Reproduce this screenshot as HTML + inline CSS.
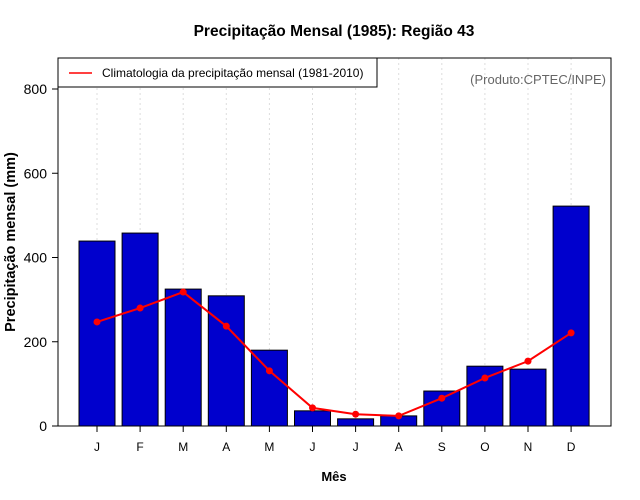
<!DOCTYPE html>
<html><head><meta charset="utf-8"><style>
body{margin:0;background:#fff}
svg{display:block;font-family:"Liberation Sans",sans-serif}
</style></head><body>
<svg id="c" width="640" height="500">
<text x="334" y="36" text-anchor="middle" font-size="15.5" font-weight="bold">Precipitação Mensal (1985): Região 43</text>
<text x="334" y="481" text-anchor="middle" font-size="13" font-weight="bold">Mês</text>
<text transform="translate(15,242) rotate(-90)" text-anchor="middle" font-size="14.5" font-weight="bold">Precipitação mensal (mm)</text>
<g id="grid"></g><g id="bars"></g><g id="line"></g><g id="axes"></g>
<rect x="58" y="58" width="553" height="368" fill="none" stroke="#000"/>
<g>
<rect x="58" y="58" width="319" height="29" fill="#fff" stroke="#000"/>
<line x1="69" y1="73" x2="92" y2="73" stroke="#f00" stroke-width="1.5"/>
<text x="102" y="77" font-size="12">Climatologia da precipitação mensal (1981-2010)</text>
</g>
<text x="606" y="84" text-anchor="end" font-size="13" fill="#666">(Produto:CPTEC/INPE)</text>
</svg>
<script>
const months=["J","F","M","A","M","J","J","A","S","O","N","D"];
const precip=[439,458,325,309,180,36,17,24,83,142,135,522];
const climatology=[247,280,318,237,131,43,28,24,66,114,154,221];
const yTicks=[0,200,400,600,800];
const NS="http://www.w3.org/2000/svg";
const x=i=>97+i*43.1;
const y=v=>426-v*0.42125;
function mk(t,a,p){const e=document.createElementNS(NS,t);for(const k in a)e.setAttribute(k,a[k]);p.appendChild(e);return e;}
const g=document.getElementById('grid'),b=document.getElementById('bars'),l=document.getElementById('line'),ax=document.getElementById('axes');
months.forEach((m,i)=>{
 const gl=mk('line',{x1:x(i),x2:x(i),y1:58,y2:426,stroke:'#ddd','stroke-dasharray':'2,3'},g);
 
 
 const r=mk('rect',{x:x(i)-18,y:y(precip[i]),width:36,height:426-y(precip[i]),fill:'#0000cd',stroke:'#000'},b);
 
 
 const tk=mk('line',{x1:x(i),x2:x(i),y1:426,y2:432,stroke:'#000'},ax);
 
 
 const tl=mk('text',{x:x(i),y:451,'text-anchor':'middle','font-size':12},ax);
 tl.textContent=m;
 
 
});
const pl=mk('polyline',{points:climatology.map((v,i)=>x(i)+','+y(v)).join(' '),fill:'none',stroke:'#f00','stroke-width':2},l);


climatology.forEach((v,i)=>{
 const c=mk('circle',{cx:x(i),cy:y(v),r:3.5,fill:'#f00'},l);
 
 
});
yTicks.forEach(v=>{
 const tk=mk('line',{x1:52,x2:58,y1:y(v),y2:y(v),stroke:'#000'},ax);
 
 
 const tl=mk('text',{x:47,y:y(v)+5,'text-anchor':'end','font-size':14},ax);
 tl.textContent=v;
 
 
});
</script>
</body></html>
